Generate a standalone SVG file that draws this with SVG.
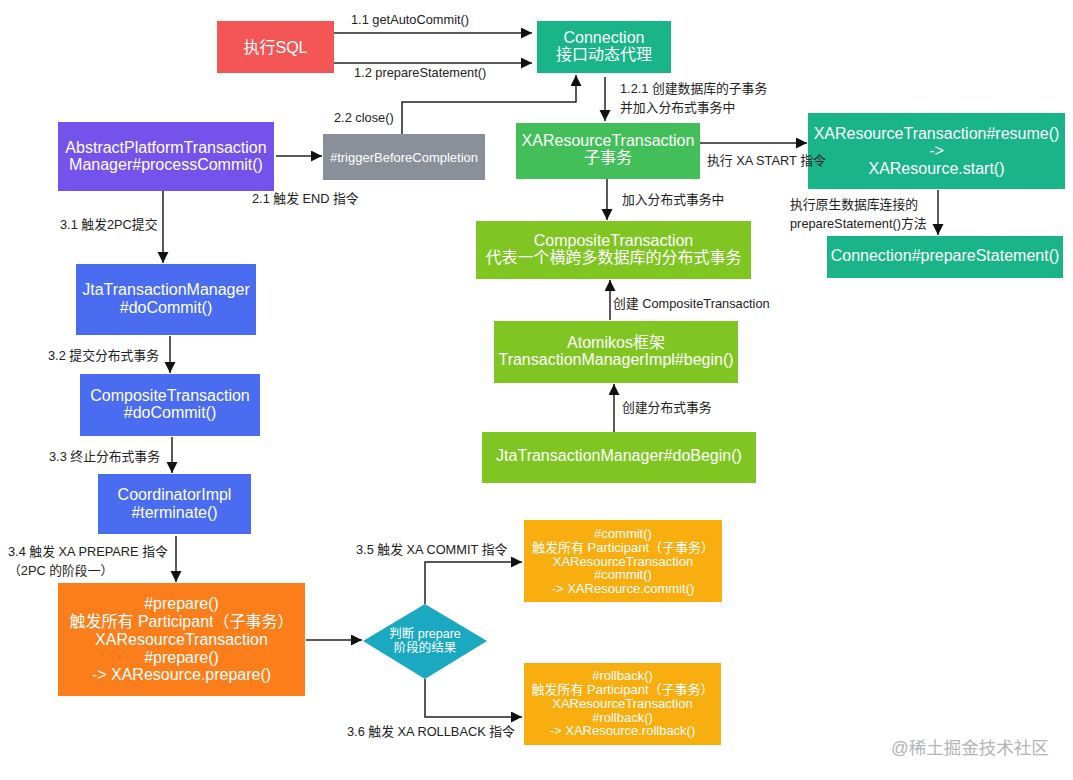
<svg xmlns="http://www.w3.org/2000/svg" width="1073" height="780" viewBox="0 0 1073 780">
<style>
text{font-family:"Liberation Sans","Noto Sans CJK SC",sans-serif}
.n{fill:#fff;font-size:16px;text-anchor:middle}
.s{fill:#fff;font-size:13px;text-anchor:middle}
.l{fill:#222;font-size:12.8px}
.c{fill:none;stroke:#222;stroke-width:1.5}
</style>
<defs>
<marker id="a" markerUnits="userSpaceOnUse" markerWidth="12" markerHeight="12" refX="11" refY="5.5" orient="auto">
<path d="M0,0 L11,5.5 L0,11 z" fill="#111"/>
</marker>
</defs>
<rect width="1073" height="780" fill="#fff"/>

<g id="connectors">
<path class="c" marker-end="url(#a)" d="M334,33 H532"/>
<path class="c" marker-end="url(#a)" d="M334,63 H532"/>
<path class="c" marker-end="url(#a)" d="M402,134 V102 H576 V75"/>
<path class="c" marker-end="url(#a)" d="M605,77 V121"/>
<path class="c" marker-end="url(#a)" d="M276,156 H322"/>
<path class="c" marker-end="url(#a)" d="M163,191 V263"/>
<path class="c" marker-end="url(#a)" d="M700,143 H807"/>
<path class="c" marker-end="url(#a)" d="M607,179 V220"/>
<path class="c" marker-end="url(#a)" d="M938,190 V235"/>
<path class="c" marker-end="url(#a)" d="M610,320 V280"/>
<path class="c" marker-end="url(#a)" d="M614,432 V384"/>
<path class="c" marker-end="url(#a)" d="M170,336 V373"/>
<path class="c" marker-end="url(#a)" d="M172,437 V473"/>
<path class="c" marker-end="url(#a)" d="M176,536 V582"/>
<path class="c" marker-end="url(#a)" d="M306,640 H362"/>
<path class="c" marker-end="url(#a)" d="M425,604 V562 H522"/>
<path class="c" marker-end="url(#a)" d="M425,679 V717 H522"/>
</g>

<g id="execSQL">
<rect x="217" y="21" width="117" height="52" fill="#f45656"/>
<text class="n" x="275.5" y="53">执行SQL</text>
</g>
<g id="connection">
<rect x="537" y="21" width="134" height="52" fill="#19b588"/>
<text class="n" x="604" y="43">Connection</text>
<text class="n" x="604" y="60">接口动态代理</text>
</g>
<g id="processCommit">
<rect x="58" y="122" width="216" height="69" fill="#7552eb"/>
<text class="n" x="166" y="153">AbstractPlatformTransaction</text>
<text class="n" x="166" y="170">Manager#processCommit()</text>
</g>
<g id="trigger">
<rect x="323" y="134" width="162" height="46" fill="#8a9099"/>
<text class="s" x="404" y="161.5">#triggerBeforeCompletion</text>
</g>
<g id="xaResourceTx">
<rect x="516" y="123" width="184" height="56" fill="#42bf58"/>
<text class="n" x="608" y="146">XAResourceTransaction</text>
<text class="n" x="608" y="163">子事务</text>
</g>
<g id="resume">
<rect x="808" y="113" width="257" height="76" fill="#19b588"/>
<text class="n" x="936.5" y="139">XAResourceTransaction#resume()</text>
<text class="n" x="936.5" y="156">-&gt;</text>
<text class="n" x="936.5" y="174">XAResource.start()</text>
</g>
<g id="compositeTx">
<rect x="476" y="221" width="275" height="58" fill="#80c623"/>
<text class="n" x="613.5" y="246">CompositeTransaction</text>
<text class="n" x="613.5" y="263">代表一个横跨多数据库的分布式事务</text>
</g>
<g id="connPrepare">
<rect x="827" y="236" width="236" height="42" fill="#19b588"/>
<text class="n" x="945" y="261">Connection#prepareStatement()</text>
</g>
<g id="atomikos">
<rect x="494" y="321" width="244" height="62" fill="#80c623"/>
<text class="n" x="616" y="348">Atomikos框架</text>
<text class="n" x="616" y="365">TransactionManagerImpl#begin()</text>
</g>
<g id="doBegin">
<rect x="482" y="432" width="274" height="51" fill="#80c623"/>
<text class="n" x="619" y="461">JtaTransactionManager#doBegin()</text>
</g>
<g id="jtaDoCommit">
<rect x="76" y="264" width="180" height="71" fill="#4a6cf0"/>
<text class="n" x="166" y="295">JtaTransactionManager</text>
<text class="n" x="166" y="313">#doCommit()</text>
</g>
<g id="compositeDoCommit">
<rect x="80" y="374" width="180" height="62" fill="#4a6cf0"/>
<text class="n" x="170" y="401">CompositeTransaction</text>
<text class="n" x="170" y="418">#doCommit()</text>
</g>
<g id="coordinator">
<rect x="98" y="474" width="153" height="60" fill="#4a6cf0"/>
<text class="n" x="174.5" y="500">CoordinatorImpl</text>
<text class="n" x="174.5" y="518">#terminate()</text>
</g>
<g id="prepare">
<rect x="58" y="583" width="247" height="113" fill="#fb7e1a"/>
<text class="n" x="181.5" y="609">#prepare()</text>
<text class="n" x="181.5" y="627">触发所有 Participant（子事务）</text>
<text class="n" x="181.5" y="645">XAResourceTransaction</text>
<text class="n" x="181.5" y="663">#prepare()</text>
<text class="n" x="181.5" y="680">-&gt; XAResource.prepare()</text>
</g>
<g id="decision">
<polygon points="363,641 425,604 487,641 425,679" fill="#1aa9c0"/>
<text class="s" x="425" y="637.5" style="font-size:12.5px">判断 prepare</text>
<text class="s" x="425" y="651.5" style="font-size:12.5px">阶段的结果</text>
</g>
<g id="commit">
<rect x="524" y="520" width="198" height="82" fill="#f9ae0f"/>
<text class="s" x="623" y="537.5">#commit()</text>
<text class="s" x="623" y="551.5">触发所有 Participant（子事务）</text>
<text class="s" x="623" y="565.5">XAResourceTransaction</text>
<text class="s" x="623" y="578.5">#commit()</text>
<text class="s" x="623" y="592.5">-&gt; XAResource.commit()</text>
</g>
<g id="rollback">
<rect x="524" y="663" width="197" height="82" fill="#f9ae0f"/>
<text class="s" x="622.5" y="679.5">#rollback()</text>
<text class="s" x="622.5" y="693.5">触发所有 Participant（子事务）</text>
<text class="s" x="622.5" y="707.5">XAResourceTransaction</text>
<text class="s" x="622.5" y="721.5">#rollback()</text>
<text class="s" x="622.5" y="734.5">-&gt; XAResource.rollback()</text>
</g>

<g id="connector-labels">
<text class="l" x="351" y="24">1.1 getAutoCommit()</text>
<text class="l" x="354" y="77">1.2 prepareStatement()</text>
<text class="l" x="334" y="122">2.2 close()</text>
<text class="l" x="620" y="93">1.2.1 创建数据库的子事务</text>
<text class="l" x="620" y="112">并加入分布式事务中</text>
<text class="l" x="252" y="203">2.1 触发 END 指令</text>
<text class="l" x="60" y="229">3.1 触发2PC提交</text>
<text class="l" x="707" y="165">执行 XA START 指令</text>
<text class="l" x="622" y="204">加入分布式事务中</text>
<text class="l" x="790" y="209">执行原生数据库连接的</text>
<text class="l" x="790" y="228">prepareStatement()方法</text>
<text class="l" x="613" y="308">创建 CompositeTransaction</text>
<text class="l" x="622" y="412">创建分布式事务</text>
<text class="l" x="48" y="360">3.2 提交分布式事务</text>
<text class="l" x="49" y="461">3.3 终止分布式事务</text>
<text class="l" x="8" y="556">3.4 触发 XA PREPARE 指令</text>
<text class="l" x="8" y="575">（2PC 的阶段一）</text>
<text class="l" x="356" y="554">3.5 触发 XA COMMIT 指令</text>
<text class="l" x="347" y="736">3.6 触发 XA ROLLBACK 指令</text>
</g>
<text x="891" y="754" style="font-size:17.5px;fill:#b4b4b4">@稀土掘金技术社区</text>
</svg>
